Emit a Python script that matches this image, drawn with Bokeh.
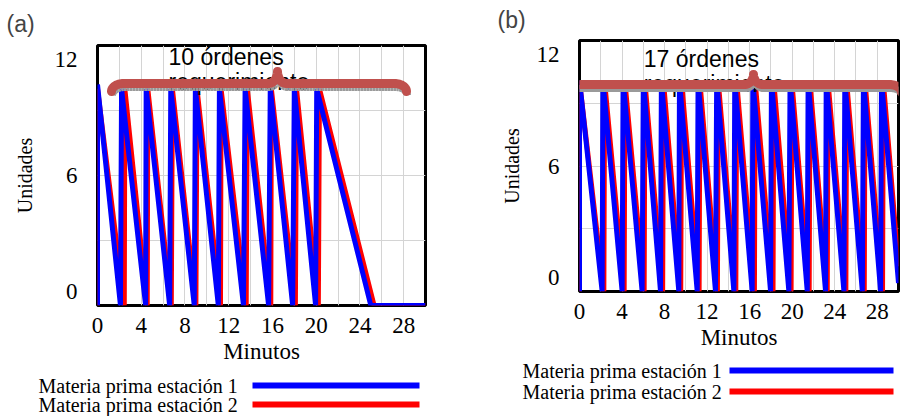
import math
from bokeh.plotting import figure
from bokeh.layouts import row, column
from bokeh.models import Range1d, FixedTicker, PolyAnnotation
from bokeh.embed import file_html
from bokeh.resources import INLINE
from bokeh.core.properties import value

# ---------------- data ----------------
x_ticks = [0, 4, 8, 12, 16, 20, 24, 28]
x_grid = [2, 4, 6, 8, 10, 12, 14, 16, 18, 20, 22, 24, 26, 28]
y_tick_labels = ["0", "6", "12"]
y_tick_values = [0, 6, 12]
y_grid = [3, 6, 9]
legend_labels = ["Materia prima estación 1", "Materia prima estación 2"]

# panel (a): reorder instants (peak), peak values, instants stock reaches zero
a_blue_peak_t = [0, 2.2, 4.45, 6.7, 8.95, 11.15, 13.5, 15.8, 18.0, 20.05]
a_blue_peak_v = [10.2, 10.0, 10.0, 10.0, 10.0, 10.0, 10.0, 10.0, 10.0, 10.0]
a_blue_zero_t = [2.1, 4.4, 6.6, 8.85, 11.05, 13.35, 15.65, 17.85, 19.95, 25.0]
a_blue_end = (30, 0)
a_red_peak_t = [0, 2.5, 4.6, 6.85, 9.1, 11.3, 13.7, 15.9, 18.2, 20.3]
a_red_peak_v = [10.0, 10.0, 10.0, 10.0, 10.0, 10.0, 10.0, 10.0, 10.0, 10.0]
a_red_zero_t = [2.45, 4.55, 6.75, 9.0, 11.25, 13.6, 15.85, 18.1, 20.2, 25.3]
a_red_end = (30, 0)
a_note = ["10 órdenes", "requerimiento"]

# panel (b)
b_blue_peak_t = [0, 2.2, 4.1, 6.0, 7.7, 9.4, 11.15, 12.9, 14.6, 16.3, 18.05,
                 19.8, 21.5, 23.2, 24.95, 26.7, 28.4]
b_blue_peak_v = [10.1] * 17
b_blue_zero_t = [2.13, 4.01, 5.89, 7.62, 9.34, 11.07, 12.79, 14.52, 16.24,
                 17.97, 19.69, 21.42, 23.14, 24.87, 26.6, 28.32]
b_blue_end = (30, 0.4)
b_red_peak_t = [0, 2.36, 4.27, 6.15, 7.9, 9.6, 11.32, 13.05, 14.78, 16.52,
                18.27, 19.97, 21.67, 23.37, 25.12, 26.85, 28.57]
b_red_peak_v = [10.05] * 17
b_red_zero_t = [2.29, 4.2, 6.08, 7.82, 9.52, 11.25, 12.97, 14.7, 16.45, 18.2,
                19.9, 21.6, 23.3, 25.05, 26.78, 28.5]
b_red_end = (30, 1.2)
b_note = ["17 órdenes", "requerimiento"]

BLUE = "#0000ff"
RED = "#ff0000"
BRACE = "#c0504d"
SERIF = "Liberation Serif"
SANS = "Liberation Sans"


def saw(peak_t, peak_v, zero_t, end):
    xs, ys = [0.0], [0.0]
    for i, (pt, pv) in enumerate(zip(peak_t, peak_v)):
        xs.append(pt); ys.append(pv)
        if i < len(zero_t):
            xs.append(zero_t[i]); ys.append(0.0)
    xs.append(end[0]); ys.append(end[1])
    return xs, ys


def brace_canvas(X0, X1, XT, YC, r=12, d=8, w=9, h=12, n=16):
    # curly brace centre line in canvas pixels (y grows downward)
    pts = []
    for k in range(n + 1):
        t = k / n * math.pi / 2
        pts.append((X0 + r - r * math.cos(t), YC + d - d * math.sin(t)))
    for k in range(n + 1):
        t = k / n * math.pi / 2
        pts.append((XT - w + w * math.sin(t), YC - h + h * math.cos(t)))
    for k in range(n, -1, -1):
        t = k / n * math.pi / 2
        pts.append((XT + w - w * math.sin(t), YC - h + h * math.cos(t)))
    for k in range(n, -1, -1):
        t = k / n * math.pi / 2
        pts.append((X1 - r + r * math.cos(t), YC + d - d * math.sin(t)))
    xs = [p[0] for p in pts]
    ys = [p[1] for p in pts]
    # out and back so the closed polygon strokes like an open curve
    return xs + xs[-2::-1], ys + ys[-2::-1]


def panel(title, title_offset, title_standoff, width, height, left, right,
          top, bottom, series, note, note_x, note_base_px, brace_px,
          label_std):
    fw = width - left - right
    fh = height - top - bottom
    ppx, ppy = fw / 30.0, fh / 12.0
    p = figure(width=width, height=height, x_range=Range1d(0, 30),
               y_range=Range1d(0, 12), min_border_left=left,
               min_border_right=right, min_border_top=top,
               min_border_bottom=bottom, output_backend="svg",
               toolbar_location=None)
    p.frame_align = False
    p.background_fill_color = "white"
    p.border_fill_color = "white"
    p.outline_line_color = "black"
    p.outline_line_width = 3

    p.title.text = title
    p.title.text_font = SANS
    p.title.text_font_size = "23px"
    p.title.text_font_style = "normal"
    p.title.align = "left"
    p.title.vertical_align = "top"
    p.title.offset = title_offset
    p.title.standoff = title_standoff

    # axes
    p.xaxis.ticker = FixedTicker(ticks=x_ticks)
    inset = 14.0 / ppy
    shifted = [y_tick_values[0] + inset, y_tick_values[1], y_tick_values[2] - inset]
    p.yaxis.ticker = FixedTicker(ticks=shifted)
    p.yaxis.major_label_overrides = {v: s for v, s in zip(shifted, y_tick_labels)}
    for ax in (p.xaxis[0], p.yaxis[0]):
        ax.axis_line_color = None
        ax.major_tick_line_color = None
        ax.minor_tick_line_color = None
        ax.major_tick_out = 0
        ax.major_label_text_font = SERIF
        ax.major_label_text_font_size = "23px"
        ax.axis_label_text_font = SERIF
        ax.axis_label_text_font_style = "normal"
        ax.axis_label_text_color = "black"
        ax.major_label_text_color = "black"
    p.xaxis.axis_label = "Minutos"
    p.xaxis.axis_label_text_font_size = "23px"
    p.xaxis.major_label_standoff = label_std[0]
    p.xaxis.axis_label_standoff = label_std[1]
    p.yaxis.axis_label = "Unidades"
    p.yaxis.axis_label_text_font_size = "20px"
    p.yaxis.major_label_standoff = label_std[2]
    p.yaxis.axis_label_standoff = label_std[3]
    p.yaxis.major_label_orientation = "horizontal"

    p.xgrid.ticker = FixedTicker(ticks=x_grid)
    p.ygrid.ticker = FixedTicker(ticks=y_grid)
    for g in (p.xgrid[0], p.ygrid[0]):
        g.grid_line_color = "#d4d4d4"
        g.grid_line_width = 1

    for color, (pt, pv, zt, end), lw in series:
        xs, ys = saw(pt, pv, zt, end)
        p.line(xs, ys, line_color=color, line_width=lw, line_join="bevel")

    # note text (two lines)
    ys_note = [12 - note_base_px[0] / ppy, 12 - note_base_px[1] / ppy]
    p.text(x=[note_x, note_x], y=ys_note, text=note, text_font=value(SANS),
           text_font_size="23px", text_baseline="alphabetic", text_align="left",
           text_color="black")

    X0, X1, XT, YC, bh = brace_px
    sxs, sys_ = brace_canvas(X0 + 1, X1 + 1, XT + 1, YC + 4, h=bh)
    p.add_layout(PolyAnnotation(xs=sxs, ys=sys_, xs_units="canvas",
                                ys_units="canvas", fill_color=None,
                                line_color="#9a9a9a", line_alpha=1.0,
                                line_width=7, line_join="round",
                                line_dash="2 1"))
    bxs, bys = brace_canvas(X0, X1, XT, YC, h=bh)
    p.add_layout(PolyAnnotation(xs=bxs, ys=bys, xs_units="canvas",
                                ys_units="canvas", fill_color=None,
                                line_color=BRACE, line_alpha=1.0,
                                line_width=9, line_join="round"))
    return p


def legend_fig(width, height, text_x, line_x0, line_x1, rows):
    lf = figure(width=width, height=height, x_range=Range1d(0, width),
                y_range=Range1d(height, 0), min_border=0,
                x_axis_type=None, y_axis_type=None, output_backend="svg",
                toolbar_location=None)
    lf.frame_align = False
    lf.outline_line_color = None
    lf.grid.visible = False
    lf.text(x=[text_x] * 2, y=rows, text=legend_labels, text_font=value(SERIF),
            text_font_size="20px", text_baseline="middle", text_align="left",
            text_color="black")
    lf.segment(x0=[line_x0] * 2, y0=rows, x1=[line_x1] * 2, y1=rows,
               line_color=[BLUE, RED], line_width=6)
    return lf


# panel geometry (pixels)
pa = panel("(a)", -91, 14, 458, 372, 97, 33, 45, 67,
           [(RED, (a_red_peak_t, a_red_peak_v, a_red_zero_t, a_red_end), 5),
            (BLUE, (a_blue_peak_t, a_blue_peak_v, a_blue_zero_t, a_blue_end), 5)],
           a_note, 6.5, (11, 36),
           (111, 406, 277, 83, 12), (12, 3, 20, 16))
pb = panel("(b)", -82, 12, 447, 352, 121, 7, 38, 60,
           [(RED, (b_red_peak_t, b_red_peak_v, b_red_zero_t, b_red_end), 5),
            (BLUE, (b_blue_peak_t, b_blue_peak_v, b_blue_zero_t, b_blue_end), 5)],
           b_note, 6.05, (19, 44),
           (98, 443, 295, 84, 10), (12, 3, 20, 11))

la = legend_fig(458, 44, 38, 252, 419, [13, 32])
lb = legend_fig(447, 64, 64, 271, 435, [18, 39])

layout = row(column(pa, la), column(pb, lb))
open("out.html", "w").write(file_html(layout, INLINE))
